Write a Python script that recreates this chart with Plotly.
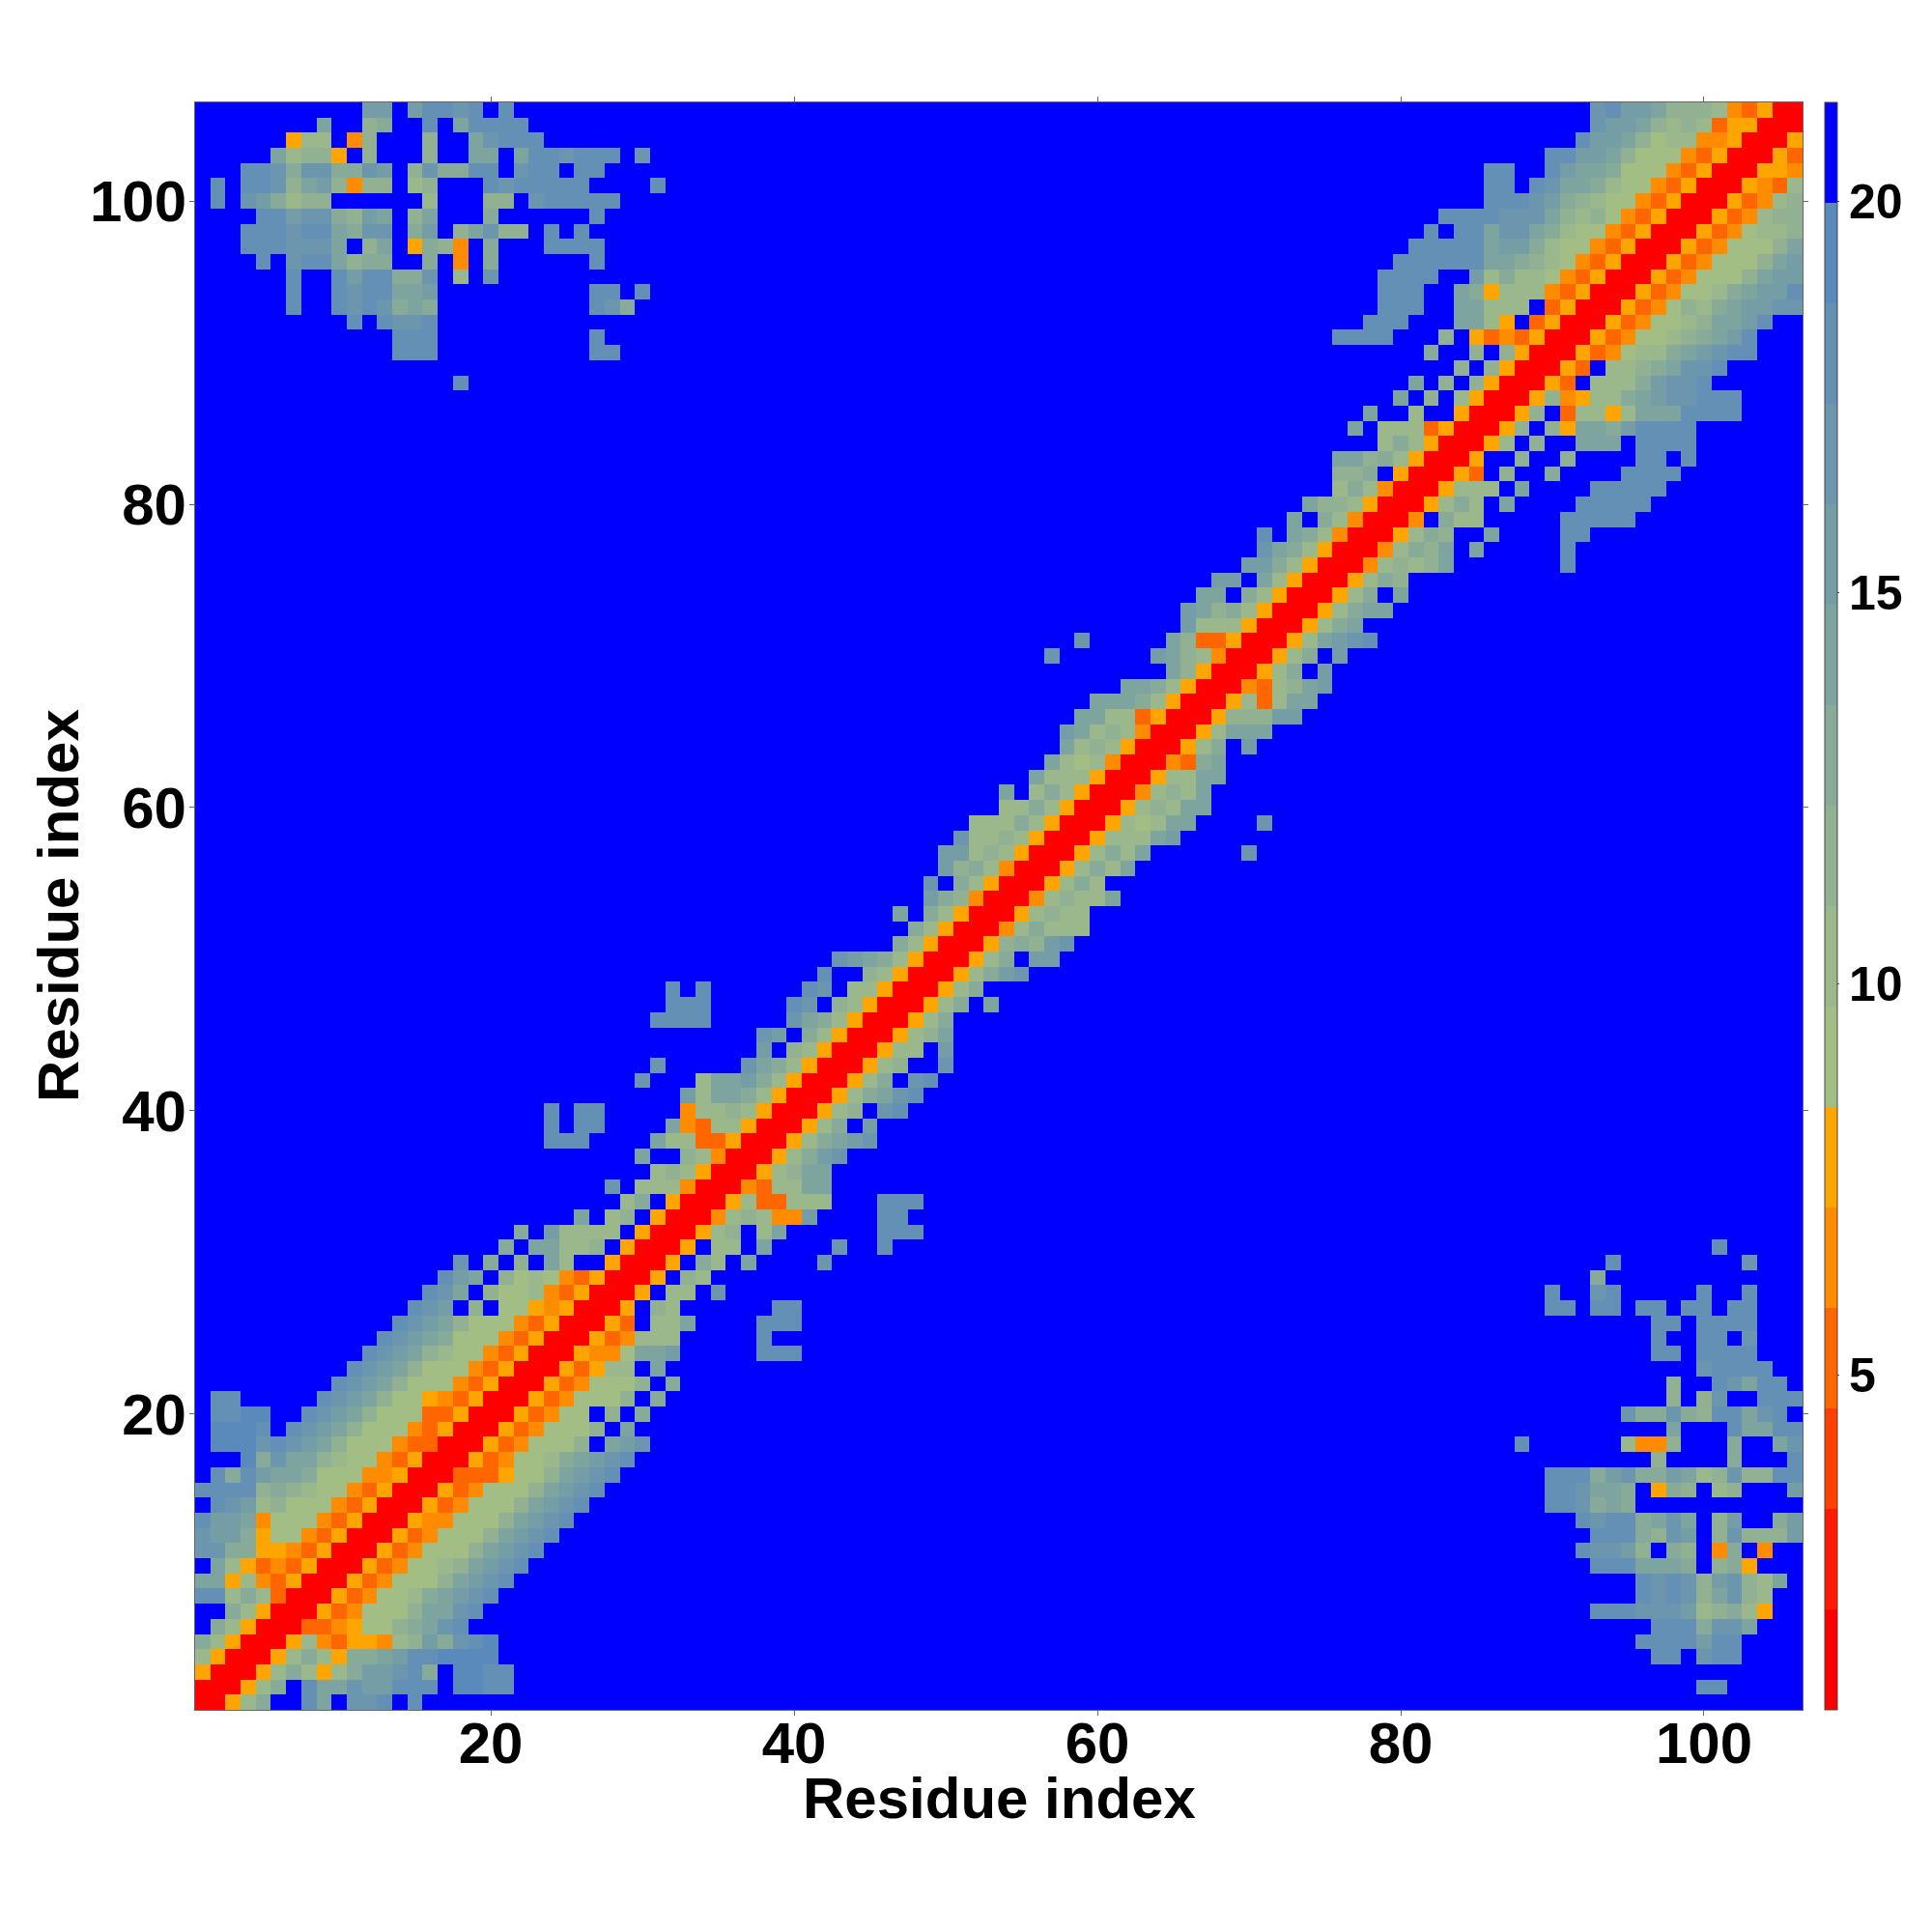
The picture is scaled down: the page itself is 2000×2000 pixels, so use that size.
import numpy as np
import plotly.graph_objects as go

N = 106
TICKS = [20, 40, 60, 80, 100]
BAR_TICKS = [5, 10, 15, 20]
Z_MIN, Z_MAX = 0.73, 21.26
AXIS_TITLE = "Residue index"
BAND_COLORS = ["#ff0000", "#ff1a00", "#ff4000", "#ff6600", "#ff8c00", "#ffa500",
               "#a3be85", "#9ab88c", "#91b192", "#87aa99", "#7ea4a0", "#759da6",
               "#6c96ad", "#6390b4", "#5a89bb", "#0000ff"]

# Levels are distance bands 0..f. Each string starts on the diagonal of its row (row 1 first).
DIAGONAL_ROWS = [
    "00579ffdafccdfd", "00579fdaacbbdddfeedd", "005797579bbcd9feedd", "005797599abddeeee",
    "00574355478b9cde", "0033456689acd", "005346668aacd", "005346679abcd", "005346668abcd",
    "005346678abcd", "005346668abcd", "005346668abcd", "005446668abcd", "005346668abcd",
    "005346668abcd", "003335668abcd", "005346679abcd", "005346668fabc", "005346668fa",
    "0053466f8f9", "005346668f9", "005346668f9", "0053577fa", "005446aab", "00534777",
    "0053f77a", "005f87", "005f77fc", "005f87", "005f97fa", "005f77fa", "00578f7a",
    "00478744b", "005733777", "004377aa", "00578aa", "00579bc", "00579abc", "00579fb",
    "00578fcd", "00579acd", "00579fcd", "00578ffc", "00577fb", "00578a", "00579",
    "00579fa", "00579", "00579bc", "00579fbb", "005898bc", "00479777", "0057877",
    "0047877a", "005797", "005797a", "005797a", "005777ab", "005767aa", "005787aa",
    "004787a", "00577aa", "00439a", "00579fb", "0057aaa", "005888bb", "005737aa",
    "004378ab", "00579fb", "00579fb", "0057abcd", "00579a", "00579aa", "00579fa",
    "005798", "0047878a", "004798afa", "005798ffa", "004f977", "005797fa", "005777fa",
    "0053f8ff9", "005ff8ff8", "0057f8ffaaa", "0058f85aa9bdddd", "0058f37757aaadddd",
    "005845779abccddd", "0053f7779bccd", "0053f7789accd", "005346779abcdd", "0053466789abd",
    "005346678aabd", "005346879abbcc", "005346679abbd", "005346668abb", "005346668ab",
    "005346668a", "005346778", "00534788", "0053478", "005437", "00554", "0053", "005",
    "00", "0",
]
# Off-diagonal patches: (row, first column, levels)
ISLANDS = [
    (24, 38, "ddd"), (25, 38, "d"), (26, 38, "ddd"), (27, 39, "dd"), (30, 42, "c"), (31, 43, "c"),
    (31, 46, "d"), (32, 46, "ddd"), (33, 46, "dd"), (34, 46, "ddd"), (57, 70, "c"), (59, 71, "c"),
    (76, 91, "d"), (77, 91, "d"), (78, 91, "dd"), (79, 91, "ddddd"), (80, 92, "ddddd"),
    (81, 93, "ddddd"), (82, 95, "dddd"), (83, 96, "ddfd"), (84, 96, "dddd"),
]
# Top-left corner contacts: (row, first column, levels)
CORNER = [
    (106, 12, "bbfbddcdfd"), (105, 9, "aff89ffdfadddd"), (104, 7, "577f48fff8ffacddd"),
    (103, 6, "a7885f8fff8ffaafaddcdddfc"), (102, 4, "ddc9cc99cbf8c99ddfcddfdd"),
    (101, 2, "dfddc8ab8488f78fffdcdddddffffd"), (100, 2, "dfcb9788ffffff7fff88fcddddd"),
    (99, 5, "ddbcc98baf8afff9ffffffd"), (98, 4, "dddcdda9ccf9bf8ac88fdfd"),
    (97, 4, "dddcccaf8af5984f9fffdddd"), (96, 5, "dfcdda899ff9f4f9ffffffd"),
    (95, 7, "dffdbdd99cf7fc"), (94, 7, "dffdcddaabffffffffffddfd"),
    (93, 7, "dffdcdc9a9ffffffffffdc9"), (92, 11, "dfdccd"), (91, 14, "ddd"), (91, 27, "d"),
    (90, 14, "ddd"), (90, 27, "dd"), (88, 18, "d"),
]

step = (Z_MAX - Z_MIN) / len(BAND_COLORS)
levels = np.full((N, N), 15, dtype=int)


def put(row, col, text):
    for k, ch in enumerate(text):
        r, c = row - 1, col - 1 + k
        levels[r, c] = levels[c, r] = int(ch, 16)


for i, text in enumerate(DIAGONAL_ROWS):
    put(i + 1, i + 1, text)
for row, col, text in ISLANDS + CORNER:
    put(row, col, text)

z = Z_MIN + (levels + 0.5) * step
axis_values = list(range(1, N + 1))
scale = []
for k, color in enumerate(BAND_COLORS):
    scale += [[k / len(BAND_COLORS), color], [(k + 1) / len(BAND_COLORS), color]]

# The page adds an 8 px body margin, so the figure is placed 8 px up and left.
PAGE = 1992
L, R, T, B = 194, 1858, 98, 1762
SIDE = R - L
FONT = "Liberation Sans"
title_font = dict(family=FONT, size=60, color="black", weight="bold")
fig = go.Figure(go.Heatmap(
    x=axis_values, y=axis_values, z=z, zmin=Z_MIN, zmax=Z_MAX, colorscale=scale, hoverinfo="skip",
    colorbar=dict(
        x=(1881 - L) / SIDE, xanchor="left", xpad=0, y=0.5, yanchor="middle", ypad=0,
        len=1, lenmode="fraction", thickness=13, thicknessmode="pixels",
        tickvals=BAR_TICKS, ticks="outside", ticklen=2, tickwidth=1, tickcolor="#444",
        tickfont=dict(family=FONT, size=50, color="black", weight="bold"),
        outlinewidth=1, outlinecolor="#444", borderwidth=0,
    ),
))
axis = dict(
    range=[0.5, N + 0.5], tickvals=TICKS, ticks="outside", ticklen=5, tickwidth=1, tickcolor="#666",
    showline=True, linecolor="#666", linewidth=1, mirror="ticks", showgrid=False, zeroline=False,
    tickfont=dict(family=FONT, size=60, color="black", weight="bold"),
)
fig.update_layout(
    width=PAGE, height=PAGE, autosize=False,
    margin=dict(l=L, r=PAGE - R, t=T, b=PAGE - B, pad=0),
    paper_bgcolor="white", plot_bgcolor="white",
    xaxis=dict(axis, ticklabelstandoff=-23),
    yaxis=dict(axis, ticklabelstandoff=-9),
    annotations=[
        dict(text=AXIS_TITLE, xref="paper", yref="paper", x=0.5, y=(B - 1854) / SIDE,
             xanchor="center", yanchor="middle", showarrow=False, font=title_font),
        dict(text=AXIS_TITLE, xref="paper", yref="paper", x=(52 - L) / SIDE, y=0.5, textangle=-90,
             xanchor="center", yanchor="middle", showarrow=False, font=title_font),
    ],
)
fig.write_html("out.html")
